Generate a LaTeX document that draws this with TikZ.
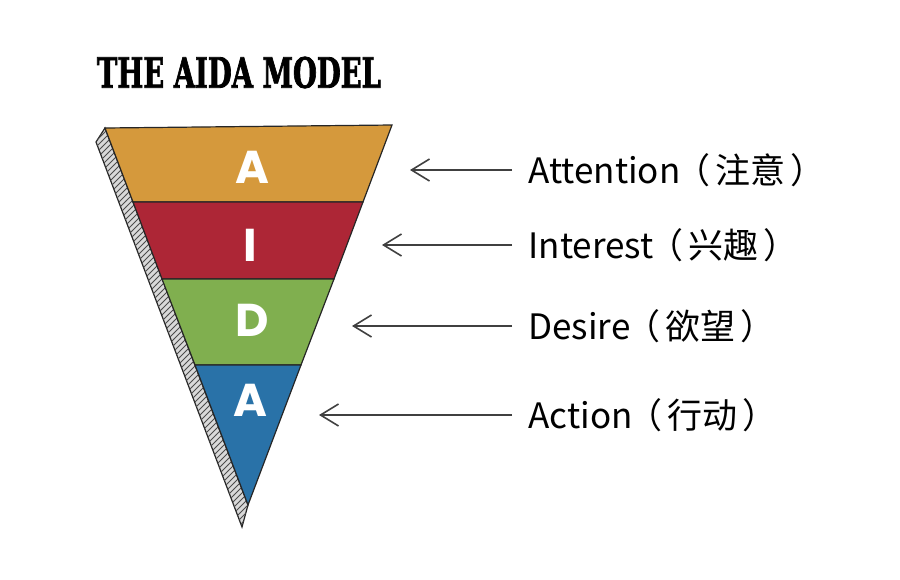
\documentclass[tikz,border=0pt]{standalone}
\usepackage{fontspec}
\usepackage{graphicx}
\setmainfont{Noto Sans CJK SC}
\newfontfamily\letterfont{Poppins}
\newfontfamily\titlefont{DejaVu Serif Condensed Bold}[FakeBold=2]
\usetikzlibrary{arrows.meta}
\usetikzlibrary{patterns}

\definecolor{attcolor}{RGB}{213,153,60}
\definecolor{intcolor}{RGB}{173,38,54}
\definecolor{descolor}{RGB}{128,175,79}
\definecolor{actcolor}{RGB}{41,114,168}

% fullwidth brackets with even gaps on both sides
\newcommand{\cn}[1]{\kern-0.15em（\kern0.15em#1\kern0.15em）}

\tikzset{
  band/.style={draw=black!85, line width=0.6pt},
  letter/.style={inner sep=0pt, text=white, font=\letterfont\bfseries\fontsize{23}{24}\selectfont},
  stagelabel/.style={anchor=west, inner sep=0pt, font=\fontsize{17.5}{20}\selectfont},
  pointer/.style={draw=black!75, line width=0.8pt, shorten <=8pt,
    -{Straight Barb[length=9pt, width=11pt]}},
}

\begin{document}
\begin{tikzpicture}[x=0.5pt, y=-0.5pt]
    \useasboundingbox (0,0) rectangle (900,579);

    % Title
    \node[inner sep=0pt] (title) at (239,72.5)
      {\resizebox{142pt}{15.5pt}{\titlefont THE AIDA MODEL}};

    % Funnel
    \filldraw[band, fill=gray!30] (105,128) -- (96,142) -- (242,527) -- (248,505) -- cycle;
    \fill[pattern=north east lines, pattern color=black!70] (105,128) -- (96,142) -- (242,527) -- (248,505) -- cycle;
    \filldraw[band, fill=attcolor] (105,128) -- (392,125) -- (363,202) -- (133,202) -- cycle;
    \filldraw[band, fill=intcolor] (133,202) -- (363,202) -- (334,279) -- (162,279) -- cycle;
    \filldraw[band, fill=descolor] (162,279) -- (334,279) -- (301,365) -- (195,365) -- cycle;
    \filldraw[band, fill=actcolor] (195,365) -- (301,365) -- (248,505) -- cycle;

    \node[letter] (lA1) at (252,167) {A};
    \node[letter] (lI) at (250,245) {I};
    \node[letter] (lD) at (252,320) {D};
    \node[letter] (lA2) at (250,400) {A};

    % Labels
    \node[stagelabel] (att) at (528,170) {Attention\cn{注意}};
    \node[stagelabel] (int) at (528,245) {Interest\cn{兴趣}};
    \node[stagelabel] (des) at (528,326) {Desire\cn{欲望}};
    \node[stagelabel] (act) at (528,415) {Action\cn{行动}};

    \coordinate (tatt) at (410,170);
    \coordinate (tint) at (382,245);
    \coordinate (tdes) at (352,326);
    \coordinate (tact) at (319,415);

    % Arrows
    \draw[pointer] (att.west) -- (tatt);
    \draw[pointer] (int.west) -- (tint);
    \draw[pointer] (des.west) -- (tdes);
    \draw[pointer] (act.west) -- (tact);
\end{tikzpicture}
\end{document}
